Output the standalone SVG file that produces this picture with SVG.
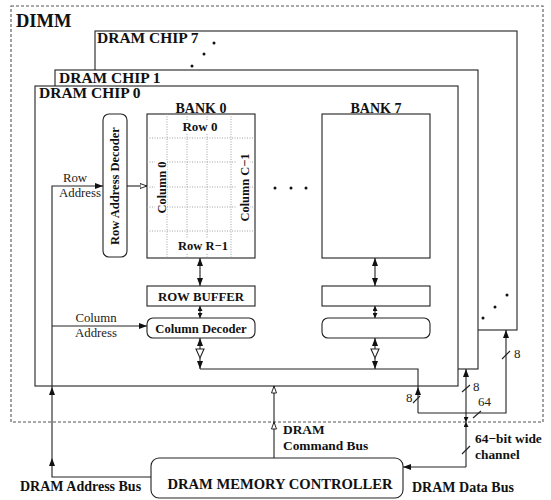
<svg xmlns="http://www.w3.org/2000/svg" width="551" height="500" viewBox="0 0 551 500">
<style>
.ln{fill:none;stroke:#222;stroke-width:1.1}
.box{fill:#fff;stroke:#222;stroke-width:1.1}
.grid{fill:none;stroke:#999;stroke-width:0.9;stroke-dasharray:1,1.5}
.dimm{fill:none;stroke:#555;stroke-width:1.1;stroke-dasharray:3,2}
.b{font-family:"Liberation Serif",serif;font-weight:bold;fill:#111}
.r{font-family:"Liberation Serif",serif;fill:#222}
.dot{fill:#111}
</style>
<defs>
<marker id="aF" markerUnits="userSpaceOnUse" markerWidth="8" markerHeight="6" refX="8" refY="3" orient="auto-start-reverse"><path d="M0,0 L8,3 L0,6 z" fill="#111"/></marker>
<marker id="aS" markerUnits="userSpaceOnUse" markerWidth="6" markerHeight="5" refX="5" refY="2.5" orient="auto-start-reverse"><path d="M0,0 L5,2.5 L0,5 z" fill="#111"/></marker>
<marker id="aO" markerUnits="userSpaceOnUse" markerWidth="9" markerHeight="7" refX="7.5" refY="3" orient="auto"><path d="M0.5,0.5 L7.5,3 L0.5,5.5 z" fill="#fff" stroke="#111" stroke-width="0.9"/></marker>
</defs>

<g id="dimm">
<rect class="dimm" x="11" y="6" width="532" height="416"/>
<text class="b" x="16" y="27" font-size="18.5">DIMM</text>
</g>

<g id="chip7">
<rect class="box" x="95" y="31" width="422" height="299"/>
<text class="b" x="97" y="43" font-size="15.5">DRAM CHIP 7</text>
<circle class="dot" cx="214" cy="43" r="1.5"/>
<circle class="dot" cx="204" cy="54" r="1.5"/>
<circle class="dot" cx="192" cy="66" r="1.5"/>
<circle class="dot" cx="483" cy="318" r="1.5"/>
<circle class="dot" cx="495" cy="307" r="1.5"/>
<circle class="dot" cx="507" cy="295" r="1.5"/>
</g>

<g id="chip1">
<rect class="box" x="55" y="70" width="423" height="299"/>
<text class="b" x="59" y="83" font-size="15.5">DRAM CHIP 1</text>
</g>

<g id="chip0">
<rect class="box" x="35" y="86" width="423" height="300"/>
<text class="b" x="39" y="98" font-size="15.5">DRAM CHIP 0</text>
</g>

<g id="row-address-decoder">
<rect class="box" x="103" y="114" width="24" height="143" rx="6"/>
<text class="b" font-size="12.5" text-anchor="middle" transform="translate(119,186) rotate(-90)">Row Address Decoder</text>
</g>

<g id="bank0">
<text class="b" x="201" y="113" font-size="14" text-anchor="middle">BANK 0</text>
<rect class="box" x="147" y="114" width="108" height="144"/>
<path class="grid" d="M167,114 V258 M187,114 V258 M207,114 V258 M231,114 V258 M147,138 H255 M147,162 H255 M147,187 H255 M147,207 H255 M147,231 H255"/>
<rect x="182" y="120" width="38" height="14" fill="#fff"/>
<rect x="179" y="239" width="48" height="14" fill="#fff"/>
<rect x="155" y="160" width="12" height="54" fill="#fff"/>
<rect x="237" y="152" width="13" height="71" fill="#fff"/>
<text class="b" x="200" y="131" font-size="13" text-anchor="middle">Row 0</text>
<text class="b" x="203" y="250" font-size="12.5" text-anchor="middle">Row R−1</text>
<text class="b" font-size="12.4" text-anchor="middle" transform="translate(166,187.5) rotate(-90)">Column 0</text>
<text class="b" font-size="12.4" text-anchor="middle" transform="translate(248.5,187.5) rotate(-90)">Column C−1</text>
</g>

<g id="row-buffer-0">
<rect class="box" x="147" y="286" width="108" height="20"/>
<text class="b" x="201" y="300.5" font-size="12.8" text-anchor="middle">ROW BUFFER</text>
</g>

<g id="column-decoder-0">
<rect class="box" x="147" y="318" width="108" height="20" rx="6"/>
<text class="b" x="201" y="332.5" font-size="12.6" text-anchor="middle">Column Decoder</text>
</g>

<g id="bank-dots">
<circle class="dot" cx="275" cy="188" r="1.5"/>
<circle class="dot" cx="291" cy="188" r="1.5"/>
<circle class="dot" cx="306" cy="188" r="1.5"/>
</g>

<g id="bank7">
<text class="b" x="376" y="113" font-size="14" text-anchor="middle">BANK 7</text>
<rect class="box" x="322" y="114" width="108" height="144"/>
</g>

<g id="row-buffer-7">
<rect class="box" x="322" y="286" width="108" height="20"/>
</g>

<g id="column-decoder-7">
<rect class="box" x="322" y="318" width="108" height="20" rx="6"/>
</g>

<g id="controller">
<rect class="box" x="151" y="458" width="252" height="40" rx="8"/>
<text class="b" x="280" y="489" font-size="14.6" text-anchor="middle">DRAM MEMORY CONTROLLER</text>
</g>

<g id="connectors">
<path class="ln" d="M151,477 L52,477 L52,458" marker-end="url(#aF)"/>
<path class="ln" d="M52,458 L52,387" marker-end="url(#aF)"/>
<path class="ln" d="M52,387 L52,186 L103,186" marker-end="url(#aF)"/>
<path class="ln" d="M52,326 L147,326" marker-end="url(#aF)"/>
<path class="ln" d="M127,186 L147,186" marker-end="url(#aO)"/>

<path class="ln" d="M200,258 L200,286" marker-start="url(#aF)" marker-end="url(#aF)"/>
<path class="ln" d="M200,306 L200,318" marker-start="url(#aS)" marker-end="url(#aS)"/>
<path class="ln" d="M200,349 L200,338" marker-end="url(#aF)"/>
<polygon class="box" points="196,349 204,349 200,358"/>
<path class="ln" d="M200,358 L200,369" marker-end="url(#aF)"/>

<path class="ln" d="M375,258 L375,286" marker-start="url(#aF)" marker-end="url(#aF)"/>
<path class="ln" d="M375,306 L375,318" marker-start="url(#aS)" marker-end="url(#aS)"/>
<path class="ln" d="M375,349 L375,338" marker-end="url(#aF)"/>
<polygon class="box" points="371,349 379,349 375,358"/>
<path class="ln" d="M375,358 L375,369" marker-end="url(#aF)"/>

<path class="ln" d="M200,369 L418,369 L418,387"/>
<path class="ln" d="M418,413 L418,387" marker-end="url(#aF)"/>
<path class="ln" d="M418,413 L506,413 L506,330" marker-end="url(#aF)"/>
<path class="ln" d="M466,413 L466,369" marker-end="url(#aF)"/>
<path class="ln" d="M466,413 L466,422" marker-end="url(#aS)"/>
<path class="ln" d="M466,467 L466,422" marker-end="url(#aS)"/>
<path class="ln" d="M466,467 L403,467" marker-end="url(#aF)"/>

<path class="ln" d="M274,458 L274,422" marker-end="url(#aO)"/>
<path class="ln" d="M274,422 L274,386" marker-end="url(#aO)"/>

<path class="ln" d="M413,403 L420,396 M462,392 L470,385 M502,359 L510,351 M473,418 L481,411 M462,454 L470,446"/>
</g>

<g id="labels">
<text class="r" x="75" y="182" font-size="12.8" text-anchor="middle">Row</text>
<text class="r" x="80" y="197" font-size="12.8" text-anchor="middle">Address</text>
<text class="r" x="96" y="322" font-size="12.8" text-anchor="middle">Column</text>
<text class="r" x="96" y="337" font-size="12.8" text-anchor="middle">Address</text>
<text class="r" x="406" y="402" font-size="13">8</text>
<text class="r" x="473" y="391" font-size="13">8</text>
<text class="r" x="514" y="358" font-size="13">8</text>
<text class="r" x="478" y="406" font-size="13">64</text>
<text class="b" x="283" y="434" font-size="13.4">DRAM</text>
<text class="b" x="283" y="449.5" font-size="13.4">Command Bus</text>
<text class="b" x="475" y="443" font-size="13.4">64−bit wide</text>
<text class="b" x="475" y="458.5" font-size="13.4">channel</text>
<text class="b" x="20" y="491" font-size="14">DRAM Address Bus</text>
<text class="b" x="412" y="492" font-size="14">DRAM Data Bus</text>
</g>
</svg>
